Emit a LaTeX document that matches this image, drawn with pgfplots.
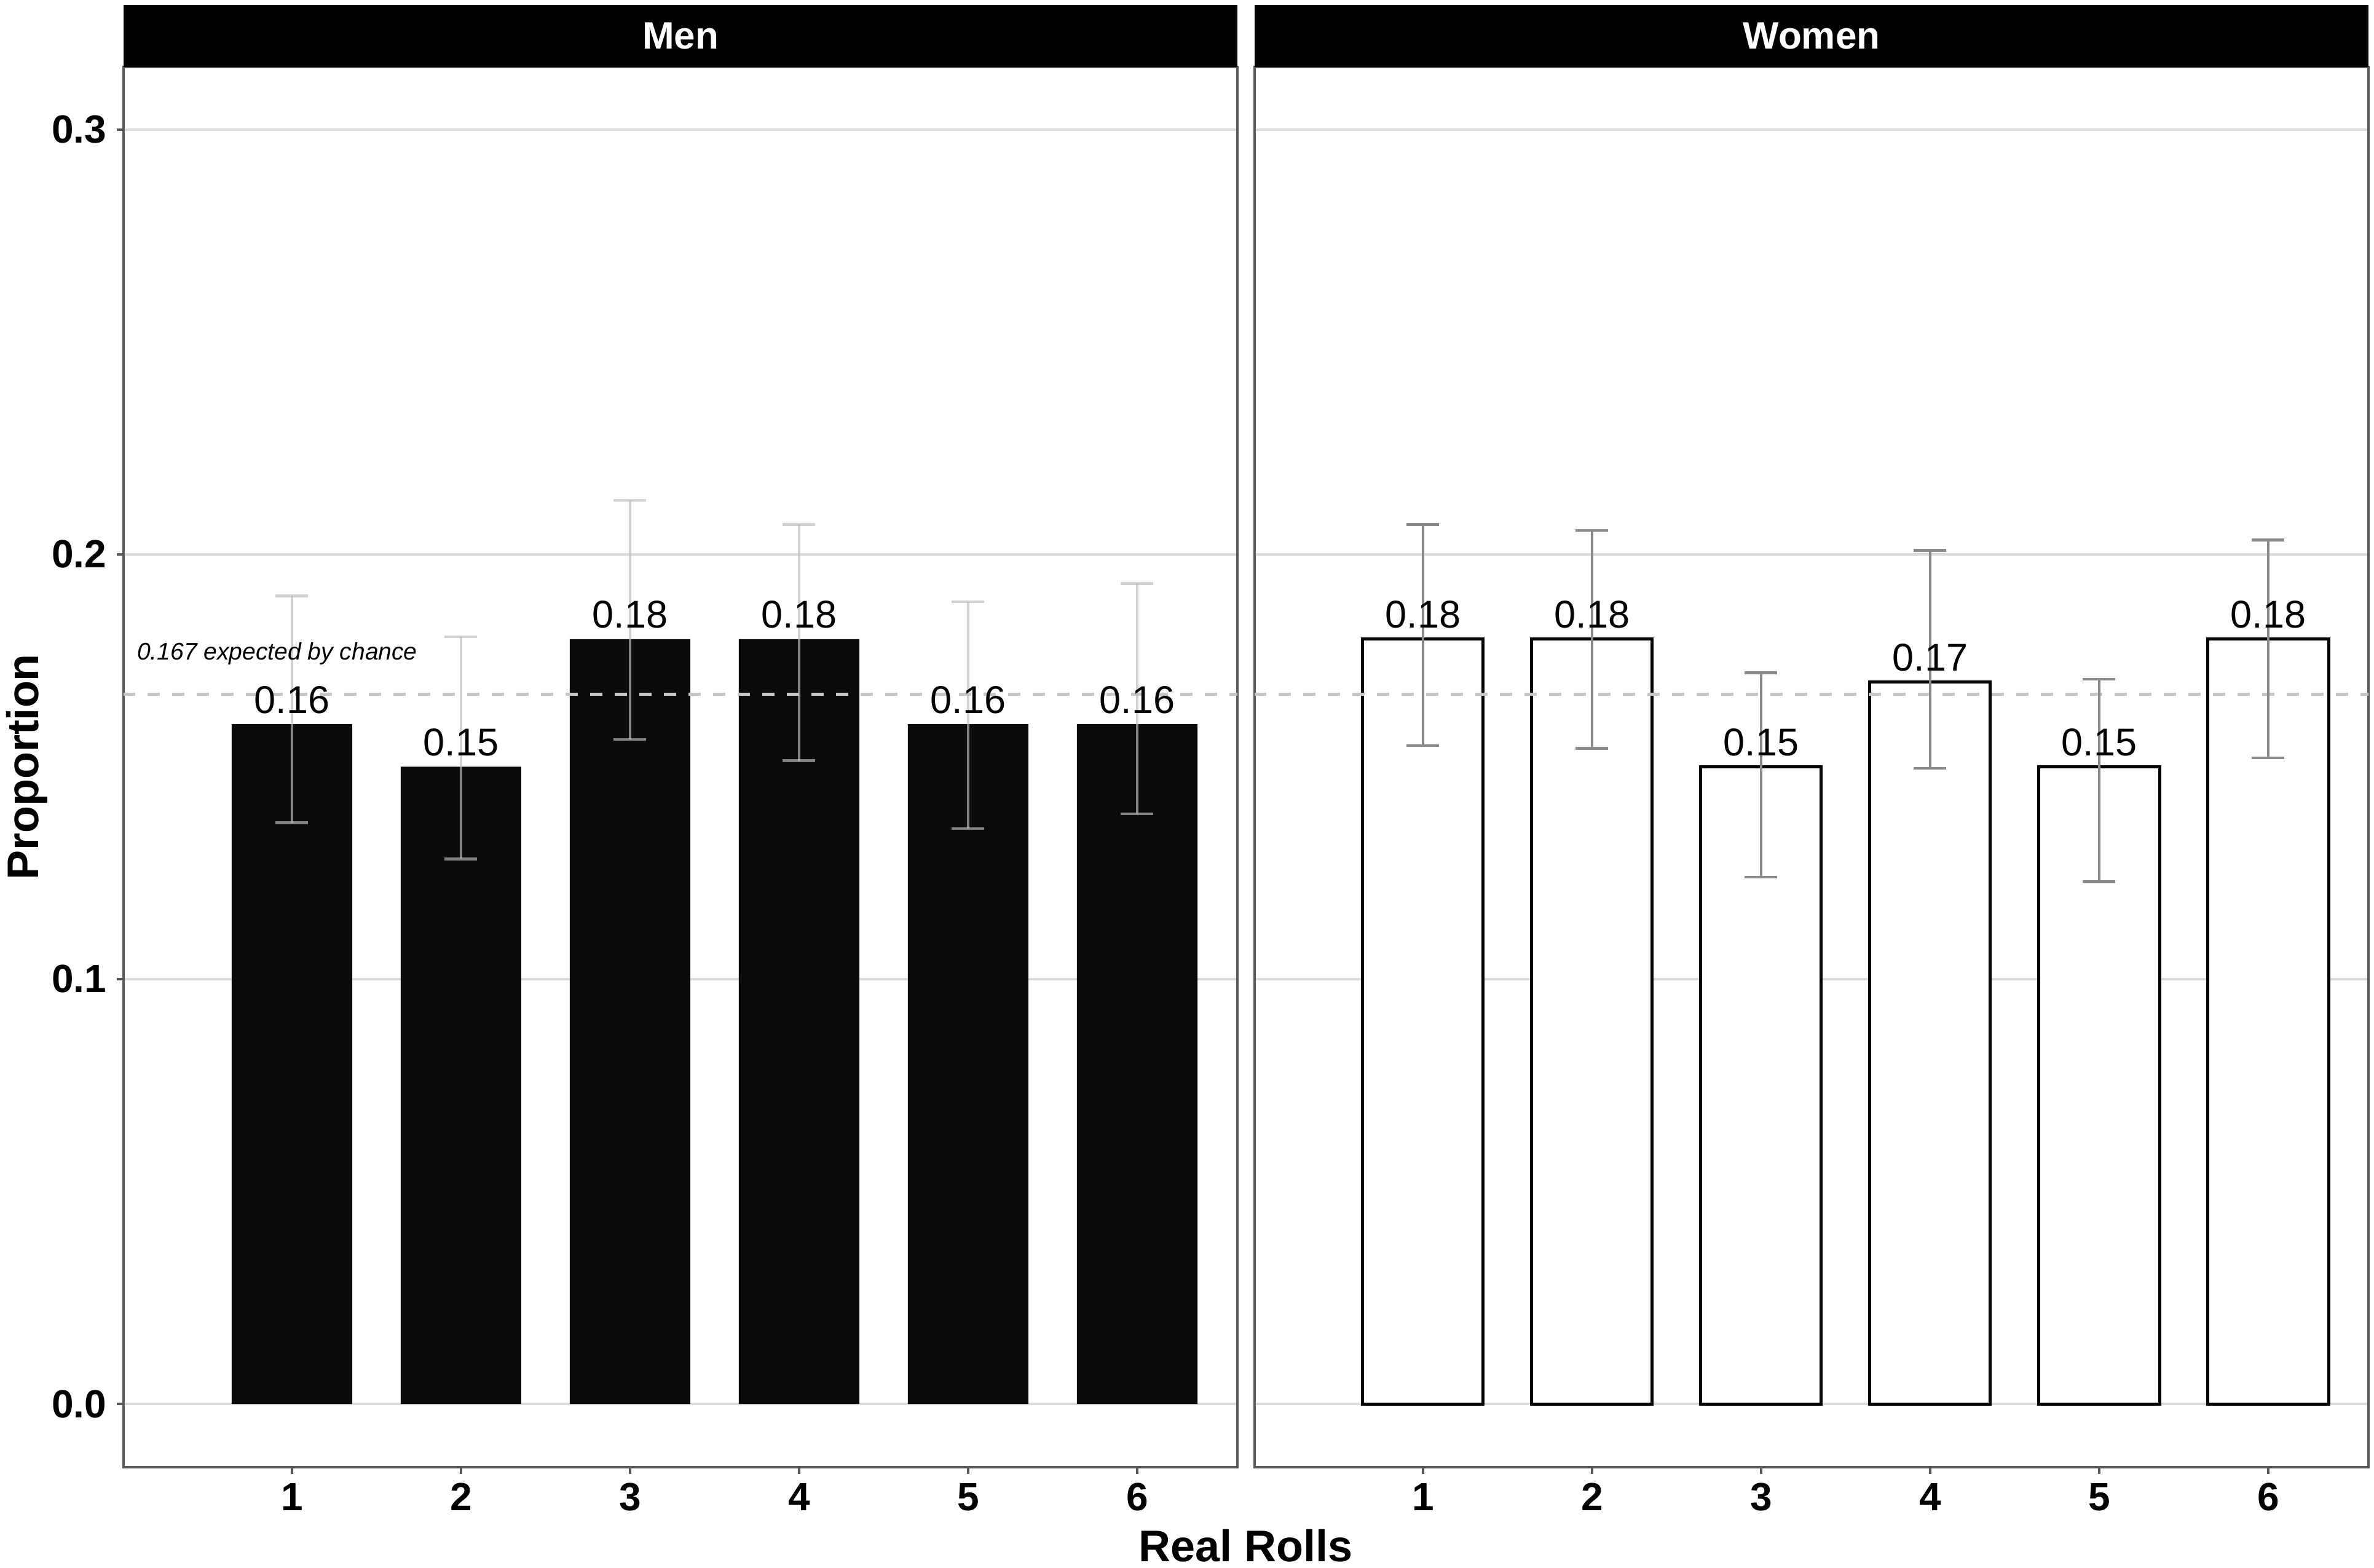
\documentclass[border=0pt]{standalone}
\usepackage{fontspec}
\setmainfont{Liberation Sans}
\usepackage{pgfplots}
\pgfplotsset{compat=1.18}
\usepackage{pgfplotstable}

\definecolor{errmen}{gray}{0.735}
\definecolor{errwomen}{gray}{0.54}
\definecolor{frame}{gray}{0.35}
\definecolor{gridc}{gray}{0.86}
\definecolor{chance}{gray}{0.78}

\pgfplotstableread{
x y lo hi lab
1 0.16 0.1368 0.1902 0.16
2 0.15 0.1283 0.1806 0.15
3 0.18 0.1564 0.2127 0.18
4 0.18 0.1514 0.2070 0.18
5 0.16 0.1354 0.1888 0.16
6 0.16 0.1389 0.1931 0.16
}\men

\pgfplotstableread{
x y lo hi lab
1 0.18 0.1550 0.2070 0.18
2 0.18 0.1543 0.2056 0.18
3 0.15 0.1240 0.1721 0.15
4 0.17 0.1496 0.2009 0.17
5 0.15 0.1229 0.1706 0.15
6 0.18 0.1521 0.2034 0.18
}\women

\pgfplotsset{
  panel/.style={
    scale only axis, width=181.2pt, height=227.8pt,
    xmin=0.004, xmax=6.593, ymin=-0.0149, ymax=0.3147,
    axis line style={draw=frame, line width=0.45pt},
    ymajorgrids, major grid style={draw=gridc, line width=0.4pt},
    xtick={1,2,3,4,5,6}, xticklabels={1,2,3,4,5,6},
    ytick={0,0.1,0.2,0.3},
    tick align=outside, major tick length=1.1pt, tick pos=left,
    major tick style={draw=frame, line width=0.4pt},
    /pgf/number format/assume math mode=true,
    tick label style={font=\fontsize{6.4}{7}\selectfont\bfseries, text=black},
    y tick label style={/pgf/number format/.cd, fixed, fixed zerofill, precision=1, /tikz/.cd, inner sep=1.5pt},
    x tick label style={inner sep=1.3pt},
  },
  errs/.style 2 args={draw=none, mark=none, forget plot,
    error bars/.cd, y dir=both, y explicit,
    error bar style={line width=0.45pt, draw=#1, solid, opacity=#2},
    error mark options={draw=#1, line width=0.45pt, mark size=2.65pt, rotate=90, opacity=#2},
    /pgfplots/.cd},
  labs/.style={draw=none, mark=none, forget plot,
    nodes near coords, point meta=explicit symbolic,
    nodes near coords style={anchor=base, yshift=1.8pt, inner sep=0pt,
      font=\fontsize{6.3}{7}\selectfont, text=black}},
}

\begin{document}
\begin{tikzpicture}
\path[use as bounding box] (0,0) rectangle (386.2pt,255pt);

% ---------------- Men ----------------
\begin{axis}[panel, name=men, at={(20.1pt,16.3pt)}, anchor=south west,
  ylabel={Proportion},
  ylabel style={at={(axis description cs:-0.0767,0.5)}, anchor=base,
    font=\fontsize{7.2}{8}\selectfont\bfseries},
  xlabel={Real Rolls},
  xlabel style={at={(axis description cs:1.0077,-0.0672)}, anchor=base,
    font=\fontsize{7.2}{8}\selectfont\bfseries},
]
\addplot[ybar, bar width=0.713, fill=black!96, draw=none] table[x=x, y=y]{\men};
\addplot[draw=chance, line width=0.5pt, dash pattern=on 2pt off 2pt, forget plot] coordinates {(0,0.167) (7,0.167)};
\addplot[errs={errmen}{0.68}]
  table[x=x, y=y, y error plus expr=\thisrow{hi}-\thisrow{y}, y error minus expr=\thisrow{y}-\thisrow{lo}]{\men};
\addplot[labs] table[x=x, y=y, meta=lab]{\men};
\node[anchor=base, font=\fontsize{3.9}{4.5}\selectfont\itshape] at (axis cs:0.913,0.1752) {0.167 expected by chance};
\end{axis}
\fill[black] (men.north west) rectangle ([yshift=10.1pt]men.north east);
\node[text=white, font=\fontsize{6.2}{7}\selectfont\bfseries] at ([yshift=5.05pt]men.north) {Men};

% ---------------- Women ----------------
\begin{axis}[panel, name=women, at={(204.1pt,16.3pt)}, anchor=south west,
  yticklabels={}, y tick style={draw=none}]
\addplot[ybar, bar width=0.713, fill=white, draw=black, line width=0.5pt] table[x=x, y=y]{\women};
\addplot[draw=chance, line width=0.5pt, dash pattern=on 2pt off 2pt, forget plot] coordinates {(0,0.167) (7,0.167)};
\addplot[errs={errwomen}{1}] table[x=x, y=y, y error plus expr=\thisrow{hi}-\thisrow{y}, y error minus expr=\thisrow{y}-\thisrow{lo}]{\women};
\addplot[labs] table[x=x, y=y, meta=lab]{\women};
\end{axis}
\fill[black] (women.north west) rectangle ([yshift=10.1pt]women.north east);
\node[text=white, font=\fontsize{6.2}{7}\selectfont\bfseries] at ([yshift=5.05pt]women.north) {Women};
\end{tikzpicture}
\end{document}
